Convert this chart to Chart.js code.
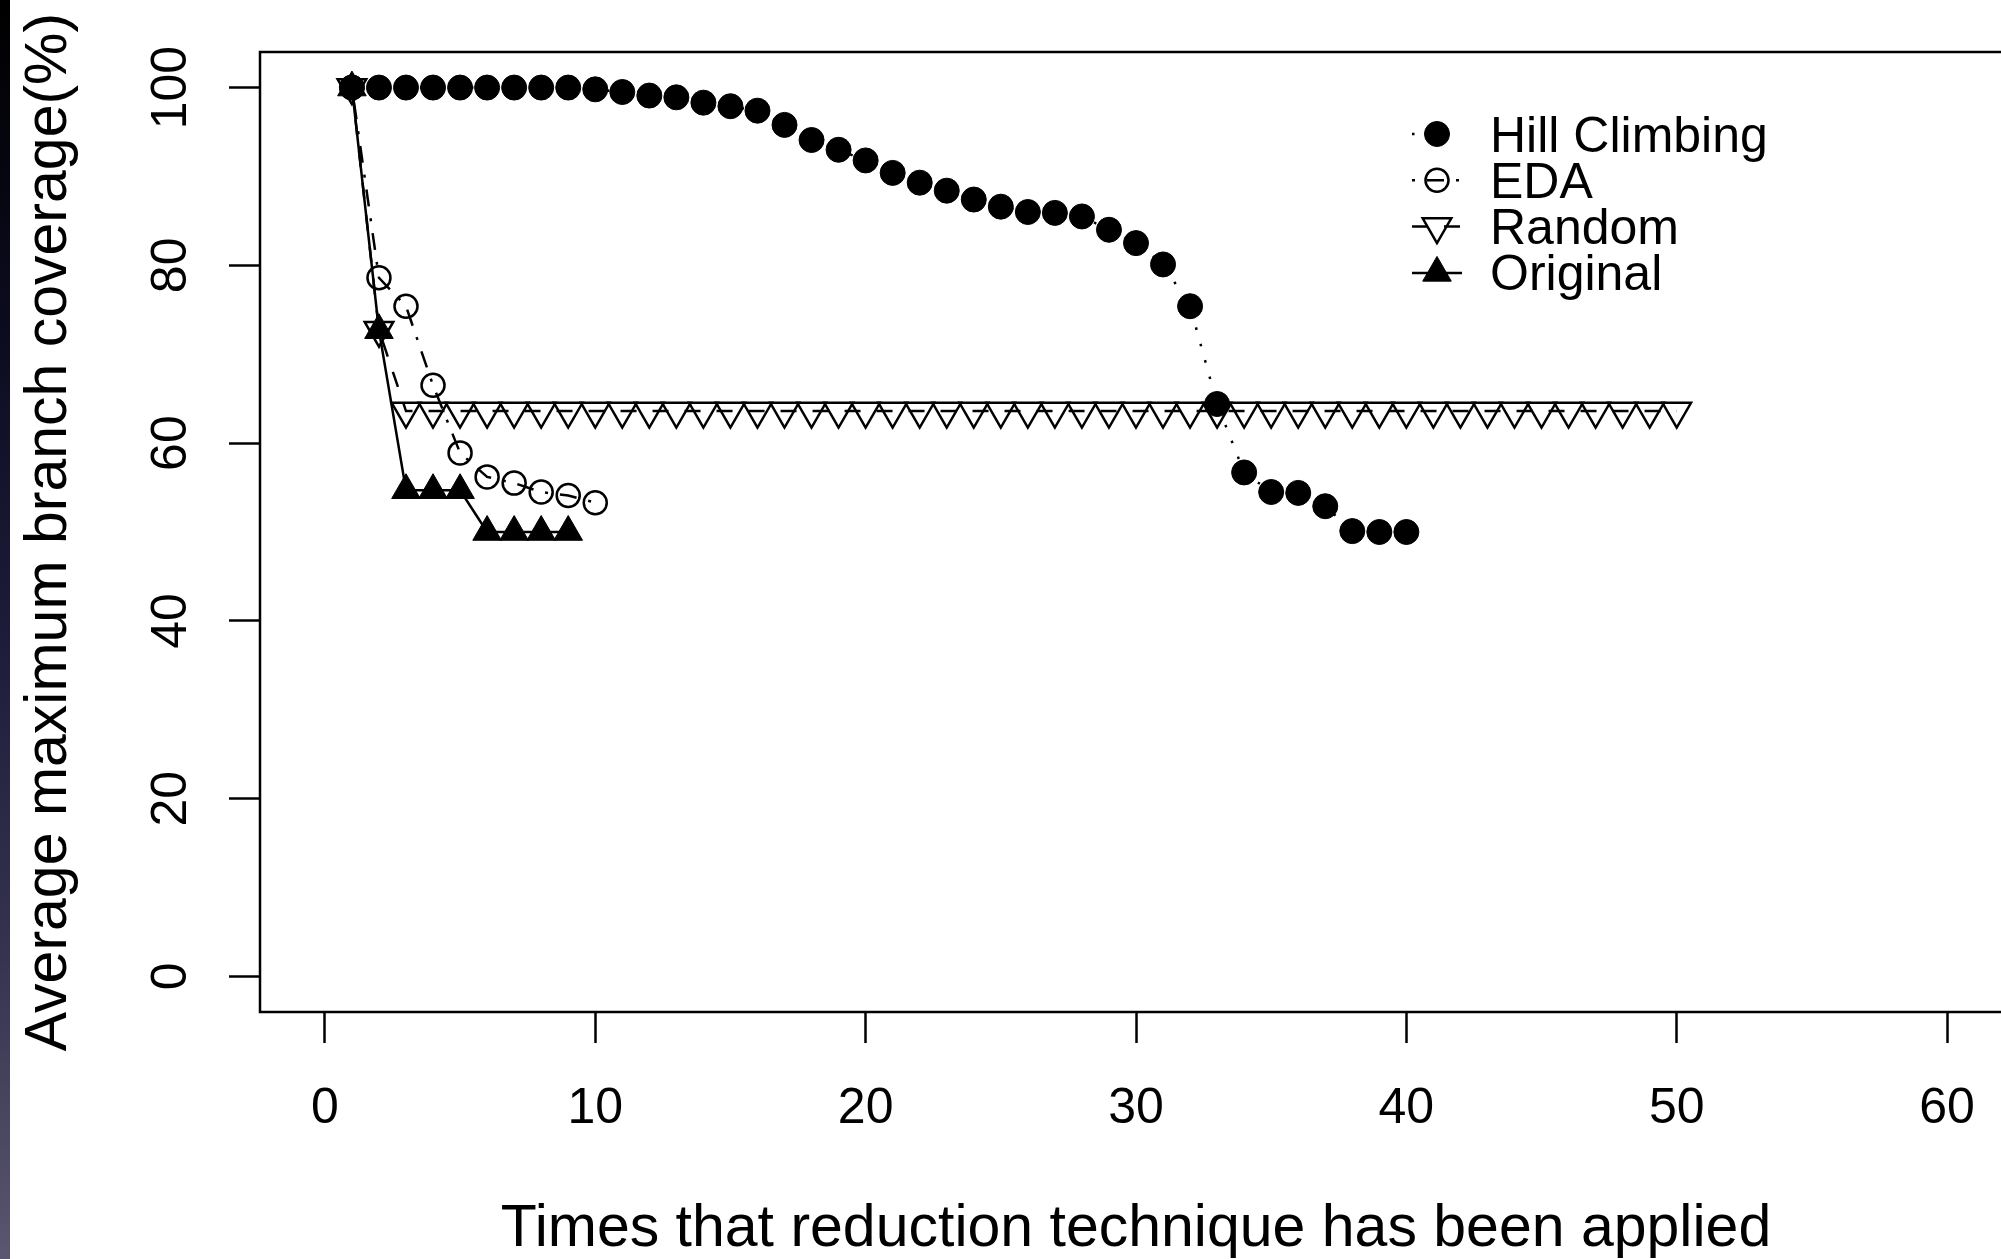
<!DOCTYPE html>
<html>
<head>
<meta charset="utf-8">
<script src="https://cdn.jsdelivr.net/npm/chart.js@4.4.1/dist/chart.umd.min.js"></script>
<style>
  html, body { margin: 0; padding: 0; background: #fff; overflow: hidden; }
  #wrap { position: relative; width: 2001px; height: 1259px; overflow: hidden; }
  #myChart { position: absolute; left: 0; top: 0; }
  #strip {
    position: absolute; left: 0; top: 0; width: 10px; height: 1259px; z-index: 2;
    background: linear-gradient(to bottom, #000 0%, #0b0b1e 25%, #1c1c3a 50%, #34324f 75%, #5a5670 100%);
  }
</style>
</head>
<body>
<div id="wrap">
  <canvas id="myChart" width="2012" height="1259"></canvas>
  <div id="strip"></div>
</div>
<script>
// values (x = 1, 2, 3, ...)
var hillValues = [100, 100, 100, 100, 100, 100, 100, 100, 100, 99.8,
                  99.5, 99.1, 98.9, 98.3, 97.9, 97.4, 95.8, 94.1, 93.0, 91.8,
                  90.4, 89.3, 88.4, 87.4, 86.6, 86.0, 85.9, 85.5, 84.0, 82.5,
                  80.1, 75.4, 64.4, 56.7, 54.5, 54.4, 52.9, 50.1, 50.0, 50.0];
var edaValues = [100, 78.6, 75.4, 66.5, 58.9, 56.2, 55.5, 54.5, 54.1, 53.3];
var randomValues = [100, 72.7, 63.6, 63.6, 63.6, 63.6, 63.6, 63.6, 63.6, 63.6,
                    63.6, 63.6, 63.6, 63.6, 63.6, 63.6, 63.6, 63.6, 63.6, 63.6,
                    63.6, 63.6, 63.6, 63.6, 63.6, 63.6, 63.6, 63.6, 63.6, 63.6,
                    63.6, 63.6, 63.6, 63.6, 63.6, 63.6, 63.6, 63.6, 63.6, 63.6,
                    63.6, 63.6, 63.6, 63.6, 63.6, 63.6, 63.6, 63.6, 63.6, 63.6];
var originalValues = [100, 72.7, 54.7, 54.7, 54.7, 50.0, 50.0, 50.0, 50.0];

var seriesNames = ['Hill Climbing', 'EDA', 'Random', 'Original'];
var xTickLabels = [0, 10, 20, 30, 40, 50, 60];
var yTickLabels = [0, 20, 40, 60, 80, 100];
var xTitle = 'Times that reduction technique has been applied';
var yTitle = 'Average maximum branch coverage(%)';

var FONT = '"Liberation Sans", Arial, Helvetica, sans-serif';

function toPoints(vals) {
  return vals.map(function (v, i) { return { x: i + 1, y: v }; });
}

var datasets = [
  {
    label: seriesNames[0], data: toPoints(hillValues), order: 4,
    borderColor: '#000', borderWidth: 2.5, borderDash: [2.5, 14.5],
    pointStyle: 'circle', pointRadius: 12.5, pointBackgroundColor: '#000',
    pointBorderColor: '#000', pointBorderWidth: 1
  },
  {
    label: seriesNames[1], data: toPoints(edaValues), order: 3,
    borderColor: '#000', borderWidth: 2.5, borderDash: [3, 12, 17, 12],
    pointStyle: 'circle', pointRadius: 11.5, pointBackgroundColor: 'rgba(0,0,0,0)',
    pointBorderColor: '#000', pointBorderWidth: 2.5
  },
  {
    label: seriesNames[2], data: toPoints(randomValues), order: 2,
    borderColor: '#000', borderWidth: 2.5, borderDash: [16, 16],
    pointStyle: 'triangle', pointRotation: 180, pointRadius: 16.5,
    pointBackgroundColor: 'rgba(0,0,0,0)', pointBorderColor: '#000', pointBorderWidth: 2.5
  },
  {
    label: seriesNames[3], data: toPoints(originalValues), order: 1,
    borderColor: '#000', borderWidth: 2.5, borderDash: [],
    pointStyle: 'triangle', pointRotation: 0, pointRadius: 16.5,
    pointBackgroundColor: '#000', pointBorderColor: '#000', pointBorderWidth: 1
  }
];

function drawMarker(ctx, ds, x, y) {
  ctx.save();
  ctx.setLineDash([]);
  ctx.lineWidth = ds.pointBorderWidth;
  ctx.strokeStyle = ds.pointBorderColor;
  ctx.fillStyle = ds.pointBackgroundColor;
  ctx.beginPath();
  if (ds.pointStyle === 'circle') {
    ctx.arc(x, y, ds.pointRadius, 0, Math.PI * 2);
  } else {
    var rad = (ds.pointRotation || 0) * Math.PI / 180, r = ds.pointRadius;
    for (var k = 0; k < 3; k++) {
      var a = rad + k * 2 * Math.PI / 3;
      var px = x + Math.sin(a) * r, py = y - Math.cos(a) * r;
      if (k === 0) ctx.moveTo(px, py); else ctx.lineTo(px, py);
    }
    ctx.closePath();
  }
  ctx.fill();
  ctx.stroke();
  ctx.restore();
}

// box, tick labels, titles and legend in the R style
var rStyle = {
  id: 'rStyle',
  afterDraw: function (chart) {
    var ctx = chart.ctx, area = chart.chartArea;
    var xs = chart.scales.x, ys = chart.scales.y;
    ctx.save();
    ctx.strokeStyle = '#000';
    ctx.lineWidth = 2.5;
    ctx.strokeRect(area.left, area.top, area.right - area.left, area.bottom - area.top);

    ctx.fillStyle = '#000';
    ctx.font = '50px ' + FONT;
    ctx.textAlign = 'center';
    ctx.textBaseline = 'alphabetic';
    xTickLabels.forEach(function (v) {
      ctx.fillText(String(v), xs.getPixelForValue(v), 1123);
    });
    yTickLabels.forEach(function (v) {
      ctx.save();
      ctx.translate(186, ys.getPixelForValue(v));
      ctx.rotate(-Math.PI / 2);
      ctx.fillText(String(v), 0, 0);
      ctx.restore();
    });

    ctx.font = '59px ' + FONT;
    ctx.fillText(xTitle, (area.left + area.right) / 2, 1246);
    ctx.save();
    ctx.translate(66, (area.top + area.bottom) / 2);
    ctx.rotate(-Math.PI / 2);
    ctx.fillText(yTitle, 0, 0);
    ctx.restore();

    // legend
    var lx = 1437, ly = 134, dy = 46.3;
    ctx.font = '50px ' + FONT;
    ctx.textAlign = 'left';
    datasets.forEach(function (ds, i) {
      var y = ly + i * dy;
      ctx.save();
      ctx.strokeStyle = '#000';
      ctx.lineWidth = ds.borderWidth;
      ctx.setLineDash(ds.borderDash);
      ctx.beginPath();
      ctx.moveTo(lx - 25, y);
      ctx.lineTo(lx + 25, y);
      ctx.stroke();
      ctx.restore();
      drawMarker(ctx, ds, lx, y);
      ctx.fillText(ds.label, 1490, y + 17.5);
    });
    ctx.restore();
  }
};

var ctx = document.getElementById('myChart').getContext('2d');
var myChart = new Chart(ctx, {
  type: 'line',
  data: { datasets: datasets },
  options: {
    responsive: false,
    animation: false,
    devicePixelRatio: 1,
    layout: { autoPadding: false, padding: { left: 229, right: 0, top: 52, bottom: 216 } },
    plugins: { legend: { display: false }, tooltip: { enabled: false } },
    elements: { line: { tension: 0, fill: false } },
    scales: {
      x: {
        type: 'linear', min: -2.4, max: 62.4,
        ticks: { display: false, stepSize: 10, includeBounds: false },
        grid: { display: true, drawOnChartArea: false, drawTicks: true, tickLength: 31,
                tickWidth: 2.5, tickColor: '#000', color: '#000' },
        border: { display: false }
      },
      y: {
        type: 'linear', min: -4, max: 104,
        ticks: { display: false, stepSize: 20, includeBounds: false },
        grid: { display: true, drawOnChartArea: false, drawTicks: true, tickLength: 31,
                tickWidth: 2.5, tickColor: '#000', color: '#000' },
        border: { display: false }
      }
    }
  },
  plugins: [rStyle]
});
</script>
</body>
</html>
